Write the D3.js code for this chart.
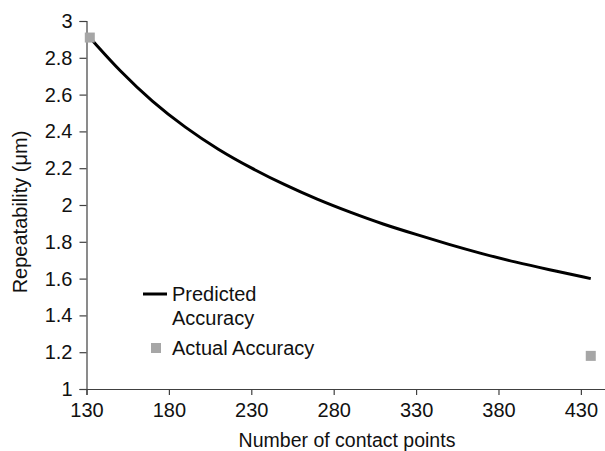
<!DOCTYPE html>
<html><head><meta charset="utf-8">
<script src="https://cdn.jsdelivr.net/npm/d3@7"></script>
<style>body{margin:0;background:#fff}svg{display:block}</style>
</head><body>
<script>
const predX = [134, 150, 170, 190, 210, 230, 250, 270, 290, 310, 330, 350, 370, 390, 410, 436];
const predY = [2.89, 2.73, 2.56, 2.42, 2.30, 2.20, 2.11, 2.03, 1.96, 1.895, 1.84, 1.785, 1.735, 1.69, 1.65, 1.60];
const actualX = [132, 436];
const actualY = [2.91, 1.18];
const xTicks = [130, 180, 230, 280, 330, 380, 430];
const yTicks = [1, 1.2, 1.4, 1.6, 1.8, 2, 2.2, 2.4, 2.6, 2.8, 3];
const legendLabels = [["Predicted", "Accuracy"], ["Actual Accuracy"]];

const W = 605, H = 451;
const svg = d3.select("body").append("svg").attr("width", W).attr("height", H)
  .style("font-family", "'Liberation Sans', Arial, sans-serif");

const x = d3.scaleLinear().domain([130, 445]).range([86.5, 605.6]);
const y = d3.scaleLinear().domain([1, 3]).range([389, 21]);
const axisColor = "#404040";

const gx = svg.append("g").attr("transform", `translate(0,${y(1)})`)
  .call(d3.axisBottom(x).tickValues(xTicks).tickSize(6).tickPadding(6).tickFormat(d3.format("d")));
const gy = svg.append("g").attr("transform", `translate(${x(130)},0)`)
  .call(d3.axisLeft(y).tickValues(yTicks).tickSize(7).tickPadding(7).tickFormat(d => String(d)));
[gx, gy].forEach(g => {
  g.select(".domain").attr("stroke", axisColor).attr("stroke-width", 1.2);
  g.selectAll(".tick line").attr("stroke", axisColor).attr("stroke-width", 1.2);
  g.selectAll(".tick text").attr("fill", "#111").style("font-size", "20px")
    .style("font-family", "'Liberation Sans', Arial, sans-serif");
});
gx.selectAll(".tick text").attr("dy", "0.82em");

const predData = predX.map((v, i) => [v, predY[i]]);
svg.append("path").datum(predData)
  .attr("fill", "none").attr("stroke", "#000").attr("stroke-width", 3)
  .attr("d", d3.line().x(d => x(d[0])).y(d => y(d[1])).curve(d3.curveBasis));

const sq = 10;
svg.selectAll("rect.actual").data(actualX.map((v, i) => [v, actualY[i]])).enter()
  .append("rect").attr("class", "actual")
  .attr("x", d => x(d[0]) - sq / 2).attr("y", d => y(d[1]) - sq / 2)
  .attr("width", sq).attr("height", sq).attr("fill", "#a6a6a6");

// Axis titles
svg.append("text").attr("x", 347).attr("y", 447).attr("text-anchor", "middle")
  .style("font-size", "19.5px").attr("fill", "#111").text("Number of contact points");
svg.append("text").attr("transform", "translate(27,212) rotate(-90)").attr("text-anchor", "middle")
  .style("font-size", "20px").attr("fill", "#111").text("Repeatability (μm)");

// Legend
const lg = svg.append("g");
lg.append("line").attr("x1", 143).attr("x2", 167).attr("y1", 294).attr("y2", 294)
  .attr("stroke", "#000").attr("stroke-width", 3);
lg.append("text").attr("x", 172).attr("y", 301).style("font-size", "20px").attr("fill", "#111")
  .selectAll("tspan").data(legendLabels[0]).enter().append("tspan")
  .attr("x", 172).attr("dy", (d, i) => i ? 24 : 0).text(d => d);
lg.append("rect").attr("x", 151).attr("y", 343).attr("width", 10).attr("height", 10).attr("fill", "#a6a6a6");
lg.append("text").attr("x", 172).attr("y", 355).style("font-size", "20px").attr("fill", "#111")
  .text(legendLabels[1][0]);
</script>
</body></html>
